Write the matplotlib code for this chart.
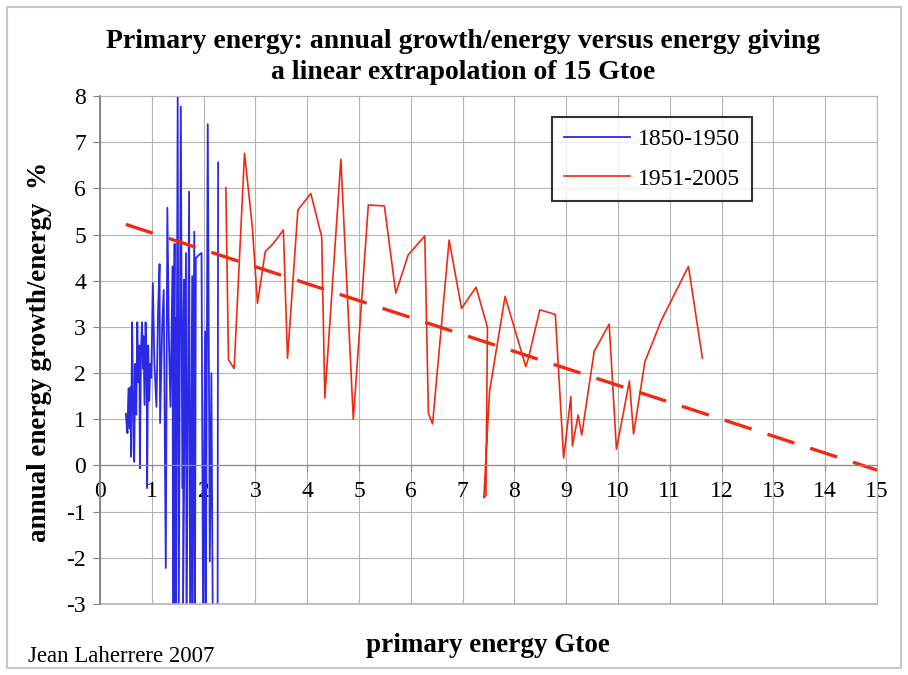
import numpy as np
import matplotlib
matplotlib.use("Agg")
import matplotlib.pyplot as plt
from matplotlib.patches import Rectangle

plt.rcParams['font.family'] = ['Liberation Serif', 'DejaVu Serif']
plt.rcParams['axes.unicode_minus'] = False

# 1850-1950: energy (Gtoe) vs annual growth (%)
energy_1850 = [0.50, 0.51, 0.53, 0.55, 0.57, 0.59, 0.60, 0.62, 0.64, 0.65,
               0.66, 0.68, 0.70, 0.72, 0.74, 0.76, 0.77, 0.79, 0.81, 0.83,
               0.84, 0.86, 0.88, 0.90, 0.91, 0.93, 0.95, 0.97, 0.99, 1.02,
               1.05, 1.09, 1.12, 1.15, 1.16, 1.20, 1.23, 1.27, 1.30, 1.33,
               1.36, 1.40, 1.41, 1.44, 1.43, 1.47, 1.46, 1.50, 1.52, 1.56,
               1.59, 1.62, 1.60, 1.66, 1.67, 1.72, 1.74, 1.78, 1.78, 1.82,
               1.83, 1.85, 1.91, 1.96, 1.99, 2.03, 2.04, 2.08, 2.12, 2.15,
               2.18, 2.27, 2.28]
growth_1850 = [1.12, 0.95, 0.70, 1.67, 0.80, 1.70, 0.19, 3.10, 1.40, 0.35,
               0.08, 2.20, 1.10, 3.10, 1.80, 2.60, -0.06, 2.40, 3.10, 2.10,
               2.80, 1.31, 3.10, 2.25, -0.49, 2.60, 1.40, 2.20, 1.90, 3.95,
               2.20, 1.27, 3.30, 4.36, 0.92, 3.00, 3.80, -2.22, 5.58, 2.76,
               1.27, 4.31, -3.8, 4.80, -4.5, 3.20, -5.0, 7.98, -3.5, 7.77,
               -0.49, 4.02, -3.6, 4.60, -4.0, 5.93, -3.5, 4.10, -4.2, 5.06,
               -5.0, 4.49, 4.56, 4.60, -3.5, 2.90, -4.0, 7.39, -2.08, 2.00,
               -4.0, -3.8, 6.56]

# 1951-2005
energy_1951 = [2.43, 2.48, 2.59, 2.79, 2.94, 3.04, 3.19, 3.35, 3.54, 3.62,
               3.82, 4.07, 4.28, 4.34, 4.65, 4.89, 5.18, 5.49, 5.71, 5.95,
               6.27, 6.34, 6.42, 6.74, 6.98, 7.26, 7.48, 7.45, 7.41, 7.52,
               7.82, 8.22, 8.27, 8.49, 8.79, 8.95, 9.09, 9.12, 9.23, 9.30,
               9.54, 9.83, 9.97, 10.22, 10.30, 10.52, 10.84, 11.36, 11.63]
growth_1951 = [6.02, 2.29, 2.10, 6.76, 5.17, 3.51, 4.63, 4.81, 5.10, 2.32,
               5.53, 5.89, 4.95, 1.46, 6.63, 1.00, 5.64, 5.62, 3.73, 4.56,
               4.97, 1.13, 0.90, 4.88, 3.40, 3.86, 2.99, -0.65, -0.70, 1.60,
               3.66, 2.14, 2.32, 3.37, 3.27, 0.16, 1.49, 0.42, 1.09, 0.66,
               2.47, 3.06, 0.35, 1.83, 0.68, 2.25, 3.15, 4.31, 2.32]

# linear extrapolation
trend_energy = [0.5, 15.0]
trend_growth = [5.22, -0.10]

fig = plt.figure(figsize=(9.08, 6.75), dpi=100)
fig.patches.append(Rectangle((7 / 908, 7 / 675), 894 / 908, 661 / 675,
                             transform=fig.transFigure, fill=False,
                             edgecolor='#c8c8c8', linewidth=1.5))
ax = fig.add_axes([100 / 908, 1 - 604 / 675, 777 / 908, 508 / 675])

ax.plot(energy_1850, growth_1850, color='#2a2ae6', linewidth=1.3, label='1850-1950')
ax.plot(energy_1951, growth_1951, color='#ee2a12', linewidth=1.2, label='1951-2005')
ax.plot(trend_energy, trend_growth, color='#ee2a12', linewidth=2.4,
        linestyle=(0, (8.5, 5)))

ax.set_xlim(0, 15)
ax.set_ylim(-3, 8)
ax.set_xticks(range(0, 16))
ax.set_yticks(range(-3, 9))
ax.grid(True, color='#b4b4b4', linewidth=0.8)
ax.set_axisbelow(True)

for side in ['top', 'right']:
    ax.spines[side].set_color('#b4b4b4')
    ax.spines[side].set_linewidth(0.8)
ax.spines['left'].set_color('#808080')
ax.spines['left'].set_linewidth(1.3)
ax.spines['bottom'].set_position(('data', 0))
ax.spines['bottom'].set_color('#8c8c8c')
ax.spines['bottom'].set_linewidth(0.9)
ax.axhline(-3, color='#b4b4b4', linewidth=1.2, clip_on=False)

ax.tick_params(axis='y', direction='out', length=5, color='#808080',
               labelsize=17, pad=5)
ax.tick_params(axis='x', direction='out', length=4, color='#8c8c8c',
               labelsize=17, pad=7)

leg = ax.legend(loc='upper left', bbox_to_anchor=(452 / 777, 1 - 21 / 508),
                borderaxespad=0, fontsize=17, frameon=True, fancybox=False,
                handlelength=2.8, borderpad=0.5, labelspacing=0.75,
                handletextpad=0.35)
leg.get_frame().set_edgecolor('black')
leg.get_frame().set_linewidth(1.5)

fig.text(463 / 908, 1 - 57 / 675,
         'Primary energy: annual growth/energy versus energy giving\n'
         'a linear extrapolation of 15 Gtoe',
         ha='center', va='center', fontsize=20, fontweight='bold',
         linespacing=1.3)
fig.text(40 / 908, 1 - 352 / 675, 'annual energy growth/energy  %',
         rotation=90, ha='center', va='center', fontsize=19.5, fontweight='bold')
fig.text(488 / 908, 1 - 645 / 675, 'primary energy Gtoe',
         ha='center', va='center', fontsize=19.5, fontweight='bold')
fig.text(28 / 908, 1 - 657 / 675, 'Jean Laherrere 2007',
         ha='left', va='center', fontsize=16.5)

fig.savefig('out.png', dpi=100)
